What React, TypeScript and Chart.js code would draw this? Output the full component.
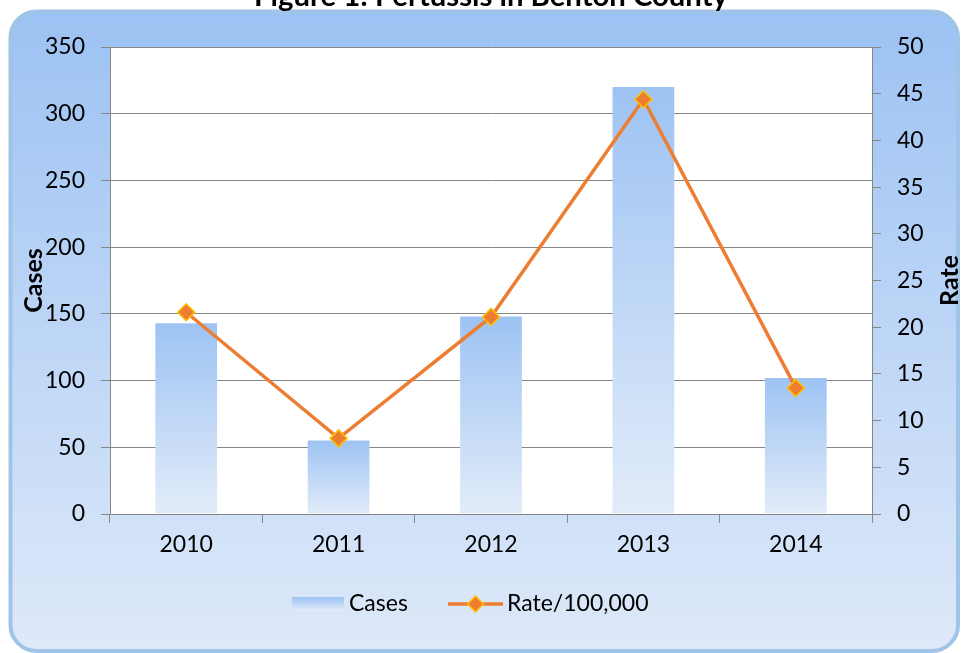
import React, { useEffect, useRef } from "react";
import { Chart, registerables } from "chart.js";

Chart.register(...registerables);

const years = ["2010", "2011", "2012", "2013", "2014"];
const cases = [143, 55, 148, 320, 102];
const rates = [21.6, 8.1, 21.1, 44.4, 13.5];
const titleText = "Figure 1: Pertussis in Benton County";
const leftAxisTitle = "Cases";
const rightAxisTitle = "Rate";
const legendLabels = ["Cases", "Rate/100,000"];

const FONT = "Lato";
const ORANGE = "#ED7D31";
const GOLD = "#FFC000";
const GRID = "#868686";
const BAR_TOP = "#9DC3F3";
const BAR_BOTTOM = "#E2ECF9";

function drawDiamond(ctx: CanvasRenderingContext2D, x: number, y: number, r: number) {
  ctx.beginPath();
  ctx.moveTo(x, y - r);
  ctx.lineTo(x + r, y);
  ctx.lineTo(x, y + r);
  ctx.lineTo(x - r, y);
  ctx.closePath();
  ctx.fillStyle = ORANGE;
  ctx.fill();
  ctx.lineWidth = 1.5;
  ctx.strokeStyle = GOLD;
  ctx.stroke();
}

const decorPlugin = {
  id: "decor",
  beforeDraw(chart: any) {
    const ctx = chart.ctx as CanvasRenderingContext2D;
    const W = chart.width;
    const H = chart.height;
    ctx.save();
    ctx.fillStyle = "#ffffff";
    ctx.fillRect(0, 0, W, H);
    // outer rounded panel
    const x0 = 10.5, y0 = 11.5, x1 = 958, y1 = 651, r = 26;
    const g = ctx.createLinearGradient(0, y0, 0, y1);
    g.addColorStop(0, "#9CC2F3");
    g.addColorStop(1, "#DEE9F9");
    ctx.beginPath();
    ctx.moveTo(x0 + r, y0);
    ctx.lineTo(x1 - r, y0);
    ctx.arcTo(x1, y0, x1, y0 + r, r);
    ctx.lineTo(x1, y1 - r);
    ctx.arcTo(x1, y1, x1 - r, y1, r);
    ctx.lineTo(x0 + r, y1);
    ctx.arcTo(x0, y1, x0, y1 - r, r);
    ctx.lineTo(x0, y0 + r);
    ctx.arcTo(x0, y0, x0 + r, y0, r);
    ctx.closePath();
    ctx.fillStyle = g;
    ctx.fill();
    ctx.lineWidth = 4;
    ctx.strokeStyle = "#A0C4E8";
    ctx.stroke();
    // title (partly cut off at top)
    ctx.fillStyle = "#000";
    ctx.font = `bold 29.3px ${FONT}`;
    ctx.textAlign = "center";
    ctx.textBaseline = "alphabetic";
    ctx.fillText(titleText, 491, 6);
    // plot area
    const a = chart.chartArea;
    ctx.fillStyle = "#ffffff";
    ctx.fillRect(a.left, a.top, a.right - a.left, a.bottom - a.top);
    ctx.restore();
  },
  afterDraw(chart: any) {
    const ctx = chart.ctx as CanvasRenderingContext2D;
    const a = chart.chartArea;
    const cy = (a.top + a.bottom) / 2;
    ctx.save();
    ctx.fillStyle = "#000";
    ctx.font = `bold 25px ${FONT}`;
    ctx.textAlign = "center";
    ctx.textBaseline = "middle";
    ctx.save();
    ctx.translate(34, cy);
    ctx.rotate(-Math.PI / 2);
    ctx.fillText(leftAxisTitle, 0, 0);
    ctx.restore();
    ctx.save();
    ctx.translate(950, cy);
    ctx.rotate(-Math.PI / 2);
    ctx.fillText(rightAxisTitle, 0, 0);
    ctx.restore();

    // legend
    const ly = 604;
    const sg = ctx.createLinearGradient(0, 597, 0, 611);
    sg.addColorStop(0, BAR_TOP);
    sg.addColorStop(1, BAR_BOTTOM);
    ctx.fillStyle = sg;
    ctx.fillRect(292, 597, 52, 14);
    ctx.fillStyle = "#000";
    ctx.font = `23px ${FONT}`;
    ctx.textAlign = "left";
    ctx.textBaseline = "middle";
    ctx.fillText(legendLabels[0], 349, ly);
    ctx.strokeStyle = ORANGE;
    ctx.lineWidth = 3.5;
    ctx.beginPath();
    ctx.moveTo(448, ly);
    ctx.lineTo(503, ly);
    ctx.stroke();
    drawDiamond(ctx, 475.5, ly, 8);
    ctx.fillStyle = "#000";
    ctx.fillText(legendLabels[1], 507, ly);
    ctx.restore();
  },
};

export default function App() {
  const ref = useRef<HTMLCanvasElement | null>(null);
  useEffect(() => {
    if (!ref.current) return;
    const tickFont = { family: FONT, size: 23 };
    const chart = new Chart(ref.current, {
      type: "bar",
      data: {
        labels: years,
        datasets: [
          {
            type: "line",
            label: legendLabels[1],
            data: rates,
            yAxisID: "y1",
            borderColor: ORANGE,
            borderWidth: 3.5,
            pointStyle: "rectRot",
            pointRadius: 8.5,
            pointBackgroundColor: ORANGE,
            pointBorderColor: GOLD,
            pointBorderWidth: 1.5,
            tension: 0,
            order: 0,
          } as any,
          {
            type: "bar",
            label: legendLabels[0],
            data: cases,
            yAxisID: "y",
            barPercentage: 0.405,
            categoryPercentage: 1,
            order: 1,
            backgroundColor: (c: any) => {
              const ch = c.chart;
              const ys = ch.scales && ch.scales.y;
              if (!ch.chartArea || !ys || c.raw == null) return BAR_TOP;
              const top = ys.getPixelForValue(c.raw);
              const bottom = ys.getPixelForValue(0);
              const gr = ch.ctx.createLinearGradient(0, top, 0, bottom);
              gr.addColorStop(0, BAR_TOP);
              gr.addColorStop(1, BAR_BOTTOM);
              return gr;
            },
          } as any,
        ],
      },
      options: {
        responsive: false,
        animation: false,
        layout: { padding: { top: 47, left: 0, right: 0, bottom: 0 } },
        plugins: {
          legend: { display: false },
          title: { display: false },
          tooltip: { enabled: false },
        },
        scales: {
          x: {
            grid: {
              offset: true,
              drawOnChartArea: false,
              color: GRID,
              tickLength: 9,
            },
            border: { color: GRID },
            ticks: { color: "#000", font: tickFont, padding: 8, maxRotation: 0 },
            afterFit: (s: any) => {
              s.height = 139;
            },
          },
          y: {
            position: "left",
            min: 0,
            max: 350,
            grid: { color: GRID, tickLength: 9 },
            border: { color: GRID },
            ticks: { stepSize: 50, color: "#000", font: tickFont, padding: 16 },
            afterFit: (s: any) => {
              s.width = 110;
            },
          },
          y1: {
            position: "right",
            min: 0,
            max: 50,
            grid: { drawOnChartArea: false, color: GRID, tickLength: 9 },
            border: { color: GRID },
            ticks: { stepSize: 5, color: "#000", font: tickFont, padding: 16 },
            afterFit: (s: any) => {
              s.width = 89;
            },
          },
        },
      } as any,
      plugins: [decorPlugin],
    });
    return () => chart.destroy();
  }, []);
  return (
    <div style={{ position: "fixed", left: 0, top: 0, width: 961, height: 653 }}>
      <canvas ref={ref} width={961} height={653} style={{ display: "block" }} />
    </div>
  );
}
